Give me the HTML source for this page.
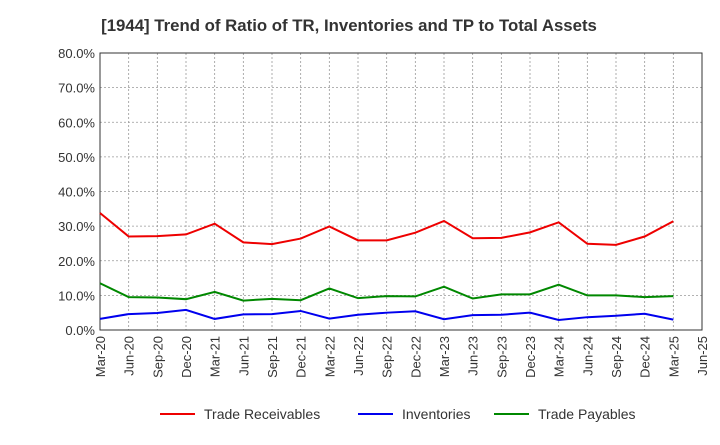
<!DOCTYPE html>
<html><head><meta charset="utf-8"><style>
body{margin:0;background:#fff;font-family:"Liberation Sans",sans-serif;}
</style></head><body>
<svg id="c" width="720" height="440" xmlns="http://www.w3.org/2000/svg">
<text x="349" y="31" text-anchor="middle" font-size="16.8" font-weight="bold" fill="#333">[1944]  Trend of Ratio of TR, Inventories and TP to Total Assets</text>
<g id="grid"></g><g id="axes"></g><g id="series"></g>
<g>
<line x1="160" y1="414" x2="195" y2="414" stroke="#e00" stroke-width="2"/><text x="204" y="419" font-size="14" fill="#333">Trade Receivables</text>
<line x1="358" y1="414" x2="393" y2="414" stroke="#00e" stroke-width="2"/><text x="402" y="419" font-size="14" fill="#333">Inventories</text>
<line x1="494" y1="414" x2="529" y2="414" stroke="#080" stroke-width="2"/><text x="538" y="419" font-size="14" fill="#333">Trade Payables</text>
</g>
</svg>
<script>
const xLabels=["Mar-20","Jun-20","Sep-20","Dec-20","Mar-21","Jun-21","Sep-21","Dec-21","Mar-22","Jun-22","Sep-22","Dec-22","Mar-23","Jun-23","Sep-23","Dec-23","Mar-24","Jun-24","Sep-24","Dec-24","Mar-25","Jun-25"];
const yTicks=[0,10,20,30,40,50,60,70,80];
const tr=[33.8,27,27.1,27.6,30.7,25.3,24.8,26.4,29.9,25.9,25.9,28.1,31.5,26.5,26.6,28.2,31.1,24.9,24.6,27,31.4];
const inv=[3.2,4.6,4.9,5.8,3.2,4.5,4.6,5.5,3.3,4.4,5,5.4,3.1,4.3,4.4,5,2.9,3.7,4.1,4.7,3];
const tp=[13.5,9.5,9.4,8.9,11,8.5,9,8.6,12,9.2,9.8,9.7,12.5,9.1,10.3,10.3,13.1,10,10,9.5,9.8];
const L=100,R=702,T=53,B=330,NS="http://www.w3.org/2000/svg";
const X=i=>L+i*(R-L)/(xLabels.length-1), Y=v=>B-v/80*(B-T);
function mk(t,a,p){const e=document.createElementNS(NS,t);for(const k in a)e.setAttribute(k,a[k]);p.appendChild(e);return e;}
const g=document.getElementById('grid'),ax=document.getElementById('axes'),s=document.getElementById('series');
yTicks.forEach(v=>{const l=mk('line',{x1:L,x2:R,y1:Y(v),y2:Y(v),stroke:'#999','stroke-dasharray':'2,2','stroke-width':0.8},g);

const t=mk('text',{x:L-5,y:Y(v)+5,'text-anchor':'end','font-size':13,fill:'#333'},ax);t.textContent=v.toFixed(1)+'%';
});
xLabels.forEach((lb,i)=>{const l=mk('line',{x1:X(i),x2:X(i),y1:T,y2:B,stroke:'#999','stroke-dasharray':'2,2','stroke-width':0.8},g);

const t=mk('text',{x:0,y:0,'text-anchor':'end','font-size':13,fill:'#333',transform:`translate(${X(i)+5},${B+6}) rotate(-90)`},ax);t.textContent=lb;
});
const f=mk('rect',{x:L,y:T,width:R-L,height:B-T,fill:'none',stroke:'#333','stroke-width':1},ax);

[[tr,'#e00','trade-receivables-line'],[inv,'#00e','inventories-line'],[tp,'#080','trade-payables-line']].forEach(([d,c,n])=>{
const p=mk('polyline',{points:d.map((v,i)=>X(i)+','+Y(v)).join(' '),fill:'none',stroke:c,'stroke-width':2},s);
});
</script>
</body></html>
